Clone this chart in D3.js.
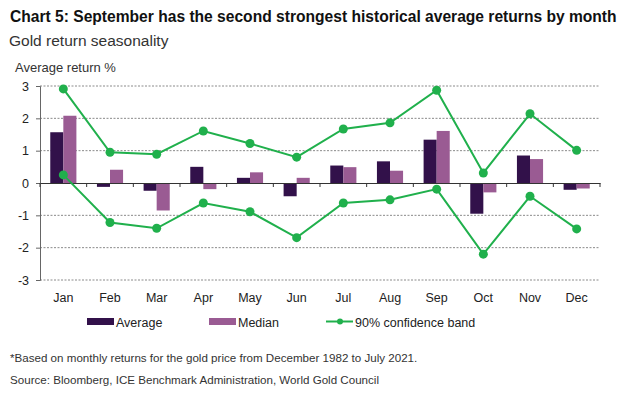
<!DOCTYPE html>
<html>
<head>
<meta charset="utf-8">
<script src="https://cdn.jsdelivr.net/npm/d3@7"></script>
<style>
  body { margin: 0; background: #fff; }
  svg { font-family: "Liberation Sans", Arial, sans-serif; }
</style>
</head>
<body>
<svg id="chart" width="628" height="393"></svg>
<script>
// data
const months = ['Jan','Feb','Mar','Apr','May','Jun','Jul','Aug','Sep','Oct','Nov','Dec'];
const average = [1.57, -0.12, -0.24, 0.50, 0.16, -0.41, 0.54, 0.67, 1.34, -0.95, 0.85, -0.21];
const median  = [2.08, 0.41, -0.85, -0.19, 0.33, 0.16, 0.49, 0.38, 1.61, -0.29, 0.74, -0.17];
const bandUpper = [2.91, 0.95, 0.89, 1.61, 1.22, 0.80, 1.67, 1.86, 2.87, 0.31, 2.14, 1.01];
const bandLower = [0.25, -1.22, -1.40, -0.62, -0.89, -1.69, -0.62, -0.52, -0.19, -2.20, -0.41, -1.42];
const yTicks = [3, 2, 1, 0, -1, -2, -3];

const colAvg = '#32114a';
const colMed = '#9a5b93';
const colGreen = '#20b04c';

const svg = d3.select('#chart');
const margin = { top: 86, left: 40, right: 28, bottom: 113 };
const width = 628 - margin.left - margin.right;
const height = 393 - margin.top - margin.bottom;

const g = svg.append('g').attr('transform', `translate(${margin.left},${margin.top})`);

const x = d3.scaleBand().domain(months).range([0, width]).paddingInner(0).paddingOuter(0);
const x1 = d3.scaleBand().domain(['avg','med']).range([x.bandwidth() * 0.22, x.bandwidth() * 0.78]);
const y = d3.scaleLinear().domain([-3, 3]).range([height, 0]);

// titles
svg.append('text').attr('x', 10).attr('y', 22)
  .attr('font-size', 15.6).attr('font-weight', 'bold').attr('fill', '#111')
  .text('Chart 5: September has the second strongest historical average returns by month');
svg.append('text').attr('x', 9).attr('y', 46)
  .attr('font-size', 15.5).attr('fill', '#333')
  .text('Gold return seasonality');
svg.append('text').attr('x', 15).attr('y', 72)
  .attr('font-size', 13).attr('fill', '#333')
  .text('Average return %');

// gridlines
g.append('g')
  .selectAll('line')
  .data(yTicks.filter(d => d !== 0))
  .enter().append('line')
  .attr('x1', 0).attr('x2', width)
  .attr('y1', d => y(d)).attr('y2', d => y(d))
  .attr('stroke', '#8a8a8a').attr('stroke-width', 1)
  .attr('stroke-dasharray', '2,1.5');

// y axis
const yAxis = g.append('g')
  .call(d3.axisLeft(y).tickValues(yTicks).tickSize(4).tickFormat(d => String(d)));
yAxis.select('.domain').attr('stroke', '#666');
yAxis.selectAll('.tick line').attr('stroke', '#666');
yAxis.selectAll('text')
  .attr('font-family', 'Liberation Sans, Arial, sans-serif')
  .attr('font-size', 12.5).attr('fill', '#222').attr('x', -11);

// bars
const grp = g.append('g')
  .selectAll('g')
  .data(months.map((m, i) => ({ m, avg: average[i], med: median[i] })))
  .enter().append('g')
  .attr('transform', d => `translate(${x(d.m)},0)`);

grp.append('rect')
  .attr('x', x1('avg')).attr('width', x1.bandwidth())
  .attr('y', d => y(Math.max(0, d.avg)))
  .attr('height', d => Math.abs(y(d.avg) - y(0)))
  .attr('fill', colAvg);
grp.append('rect')
  .attr('x', x1('med')).attr('width', x1.bandwidth())
  .attr('y', d => y(Math.max(0, d.med)))
  .attr('height', d => Math.abs(y(d.med) - y(0)))
  .attr('fill', colMed);

// zero axis with ticks between months
const xAxis = g.append('g')
  .attr('transform', `translate(0,${y(0)})`)
  .call(d3.axisBottom(x).tickSize(0).tickFormat(''));
xAxis.select('.domain').attr('stroke', '#333');
g.append('g')
  .selectAll('line')
  .data(d3.range(months.length + 1))
  .enter().append('line')
  .attr('x1', i => i * x.step()).attr('x2', i => i * x.step())
  .attr('y1', y(0)).attr('y2', y(0) + 4)
  .attr('stroke', '#333');

// month labels
g.append('g')
  .selectAll('text')
  .data(months)
  .enter().append('text')
  .attr('x', d => x(d) + x.bandwidth() / 2)
  .attr('y', height + 22)
  .attr('text-anchor', 'middle')
  .attr('font-size', 12.5).attr('fill', '#222')
  .text(d => d);

// confidence band lines
const line = d3.line()
  .x((d, i) => x(months[i]) + x.bandwidth() / 2)
  .y(d => y(d));

[bandUpper, bandLower].forEach(series => {
  g.append('path')
    .datum(series)
    .attr('d', line)
    .attr('fill', 'none')
    .attr('stroke', colGreen)
    .attr('stroke-width', 2);
  g.append('g')
    .selectAll('circle')
    .data(series)
    .enter().append('circle')
    .attr('cx', (d, i) => x(months[i]) + x.bandwidth() / 2)
    .attr('cy', d => y(d))
    .attr('r', 4.5)
    .attr('fill', colGreen);
});

// legend
const leg = svg.append('g')
  .attr('font-size', 12.5).attr('fill', '#222');
leg.append('rect').attr('x', 87).attr('y', 318).attr('width', 27).attr('height', 7).attr('fill', colAvg);
leg.append('text').attr('x', 116).attr('y', 326.5).text('Average');
leg.append('rect').attr('x', 209).attr('y', 318).attr('width', 27).attr('height', 7).attr('fill', colMed);
leg.append('text').attr('x', 238).attr('y', 326.5).text('Median');
leg.append('line').attr('x1', 326).attr('x2', 353).attr('y1', 321.5).attr('y2', 321.5)
  .attr('stroke', colGreen).attr('stroke-width', 2);
leg.append('circle').attr('cx', 340).attr('cy', 321.5).attr('r', 3).attr('fill', colGreen);
leg.append('text').attr('x', 355).attr('y', 326.5).text('90% confidence band');

// footnotes
const foot = svg.append('g')
  .attr('font-size', 11.6).attr('fill', '#333');
foot.append('text').attr('x', 10).attr('y', 362)
  .text('*Based on monthly returns for the gold price from December 1982 to July 2021.');
foot.append('text').attr('x', 10).attr('y', 384)
  .text('Source: Bloomberg, ICE Benchmark Administration, World Gold Council');
</script>
</body>
</html>
